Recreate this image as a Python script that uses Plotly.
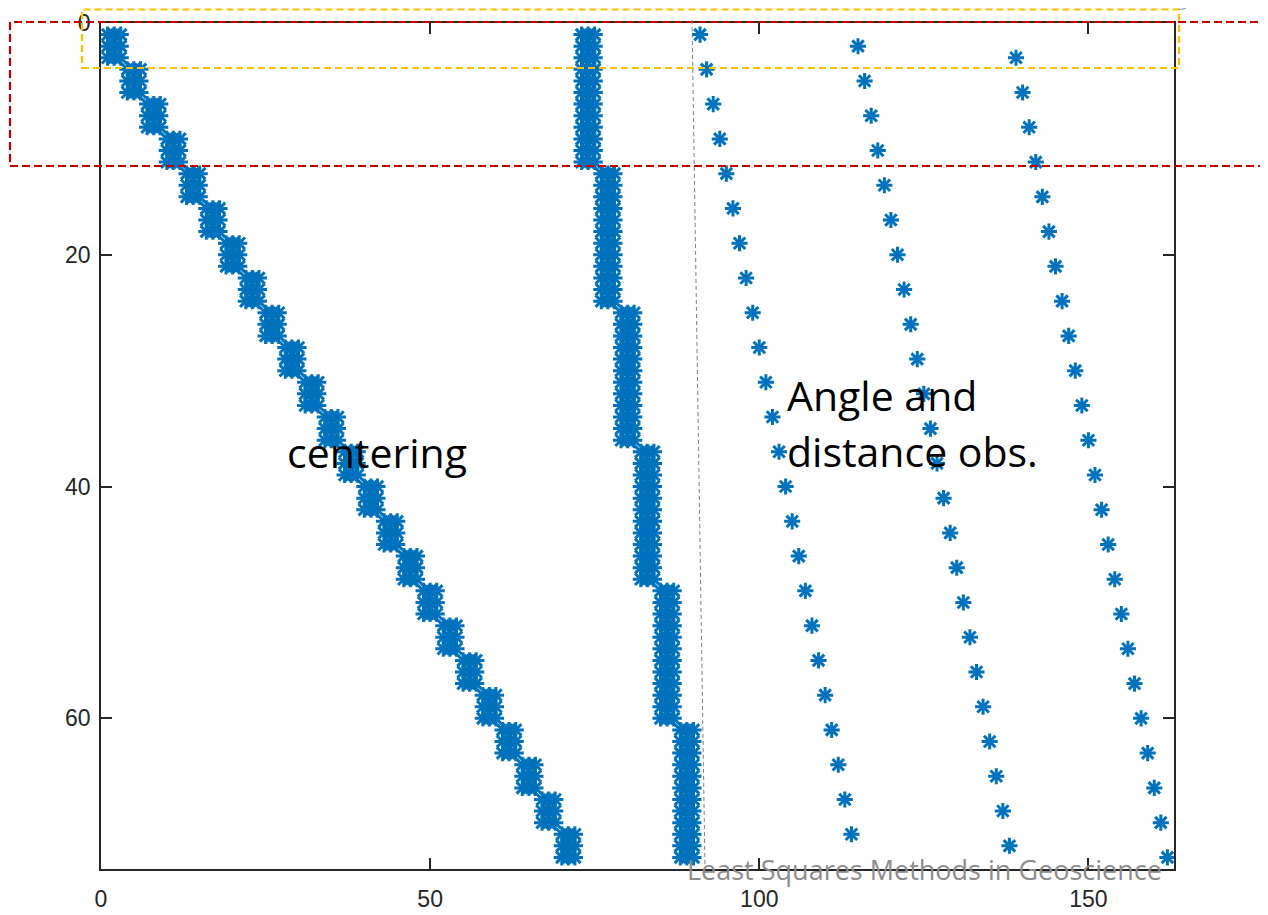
import plotly.graph_objects as go

# ---------------- data (nonzero pattern of the design matrix) ----------------
# centering: 3x3 diagonal blocks, first row / first column of each block
centering_block_row = [1, 4, 7, 10, 13, 16, 19, 22, 25, 28, 31, 34,
                       37, 40, 43, 46, 49, 52, 55, 58, 61, 64, 67, 70]
centering_block_col = [1, 4, 7, 10, 13, 16, 19, 22, 25, 28, 31, 34,
                       37, 40, 43, 46, 49, 52, 55, 58, 61, 64, 67, 70]
centering_block_rows = 3
centering_block_cols = 3

# station blocks: 12 rows x 3 columns
station_block_row = [1, 13, 25, 37, 49, 61]
station_block_col = [73, 76, 79, 82, 85, 88]
station_block_rows = 12
station_block_cols = 3

# angle and distance observations (single nonzeros)
obs_a_rows = [1, 4, 7, 10, 13, 16, 19, 22, 25, 28, 31, 34,
              37, 40, 43, 46, 49, 52, 55, 58, 61, 64, 67, 70]
obs_a_cols = [91, 92, 93, 94, 95, 96, 97, 98, 99, 100, 101, 102,
              103, 104, 105, 106, 107, 108, 109, 110, 111, 112, 113, 114]
obs_b_rows = [2, 5, 8, 11, 14, 17, 20, 23, 26, 29, 32, 35,
              38, 41, 44, 47, 50, 53, 56, 59, 62, 65, 68, 71]
obs_b_cols = [115, 116, 117, 118, 119, 120, 121, 122, 123, 124, 125, 126,
              127, 128, 129, 130, 131, 132, 133, 134, 135, 136, 137, 138]
obs_c_rows = [3, 6, 9, 12, 15, 18, 21, 24, 27, 30, 33, 36,
              39, 42, 45, 48, 51, 54, 57, 60, 63, 66, 69, 72]
obs_c_cols = [139, 140, 141, 142, 143, 144, 145, 146, 147, 148, 149, 150,
              151, 152, 153, 154, 155, 156, 157, 158, 159, 160, 161, 162]

n_rows = 72
n_cols = 162
x_ticks = [0, 50, 100, 150]
y_ticks = [0, 20, 40, 60]

# ---------------- expand pattern to point list ----------------
xs, ys = [], []
for r0, c0 in zip(centering_block_row, centering_block_col):
    for dr in range(centering_block_rows):
        for dc in range(centering_block_cols):
            ys.append(r0 + dr)
            xs.append(c0 + dc)
for r0, c0 in zip(station_block_row, station_block_col):
    for dr in range(station_block_rows):
        for dc in range(station_block_cols):
            ys.append(r0 + dr)
            xs.append(c0 + dc)
for rr, cc in ((obs_a_rows, obs_a_cols), (obs_b_rows, obs_b_cols), (obs_c_rows, obs_c_cols)):
    xs.extend(cc)
    ys.extend(rr)

BLUE = "#0072BD"
fig = go.Figure()
for sym in ("cross-thin-open", "x-thin-open"):
    fig.add_trace(go.Scatter(
        x=xs, y=ys, mode="markers", hoverinfo="skip", showlegend=False,
        cliponaxis=False,
        marker=dict(symbol=sym, size=11.5, color=BLUE,
                    line=dict(color=BLUE, width=3))))

# ---------------- layout ----------------
# the page body has an 8px margin: figure origin sits at screen (8, 8)
OFF = 8
W, H = 1260, 907
L, T, R, B = 101, 23, 1174, 869          # target plot box in screen pixels
PW, PH = R - L, B - T

def px(x):
    return (x - L) / PW

def py(y):
    return (B - y) / PH

AX = "#262626"
tickfont = dict(family="Liberation Sans, Arial, sans-serif", size=23, color=AX)
fig.update_layout(
    template="none",
    width=W, height=H,
    margin=dict(l=L - OFF, r=W - (R - OFF), t=T - OFF, b=H - (B - OFF), pad=0,
                autoexpand=False),
    paper_bgcolor="white", plot_bgcolor="white",
    xaxis=dict(range=[0, n_cols + 1], tickvals=x_ticks, ticks="inside", ticklen=11,
               tickwidth=1.5, tickcolor=AX, showline=True, linecolor=AX, linewidth=1.5,
               mirror="ticks", showgrid=False, zeroline=False, tickfont=tickfont,
               ticklabelstandoff=9, automargin=False),
    yaxis=dict(range=[n_rows + 1, 0], tickvals=y_ticks, ticks="inside", ticklen=11,
               tickwidth=1.5, tickcolor=AX, showline=True, linecolor=AX, linewidth=1.5,
               mirror="ticks", showgrid=False, zeroline=False, tickfont=tickfont,
               ticklabelstandoff=4, automargin=False),
)

shapes = []
# red dashed rectangle
shapes.append(dict(type="rect", xref="paper", yref="paper",
                   x0=px(10), x1=px(1300), y0=py(166), y1=py(22),
                   line=dict(color="#C00000", width=2.2, dash="8px,4px")))
# orange dashed rectangle
shapes.append(dict(type="rect", xref="paper", yref="paper",
                   x0=px(82), x1=px(1179), y0=py(68), y1=py(9.5),
                   line=dict(color="#FFC000", width=2.2, dash="7px,4px")))
# small callout connector
shapes.append(dict(type="line", xref="paper", yref="paper",
                   x0=px(1179), x1=px(1186), y0=py(9.5), y1=py(8.5),
                   line=dict(color="#5B9BD5", width=1)))
# grey dashed separator
shapes.append(dict(type="line", xref="paper", yref="paper",
                   x0=px(692), x1=px(705), y0=py(20), y1=py(868),
                   line=dict(color="#7F7F7F", width=1, dash="4px,3px")))
fig.update_layout(shapes=shapes)

TXT = "Open Sans, sans-serif"
fig.add_annotation(xref="paper", yref="paper", x=px(285), y=py(452),
                   xanchor="left", yanchor="middle", showarrow=False,
                   text="centering", font=dict(family=TXT, size=41, color="black"))
fig.add_annotation(xref="paper", yref="paper", x=px(785), y=py(395),
                   xanchor="left", yanchor="middle", showarrow=False, align="left",
                   text="Angle and", font=dict(family=TXT, size=41, color="black"))
fig.add_annotation(xref="paper", yref="paper", x=px(785), y=py(451),
                   xanchor="left", yanchor="middle", showarrow=False, align="left",
                   text="distance obs.", font=dict(family=TXT, size=41, color="black"))
fig.add_annotation(xref="paper", yref="paper", x=px(924), y=py(869),
                   xanchor="center", yanchor="middle", showarrow=False,
                   text="Least Squares Methods in Geoscience",
                   font=dict(family=TXT, size=27, color="#8C8C8C"))

fig.write_html("out.html")
